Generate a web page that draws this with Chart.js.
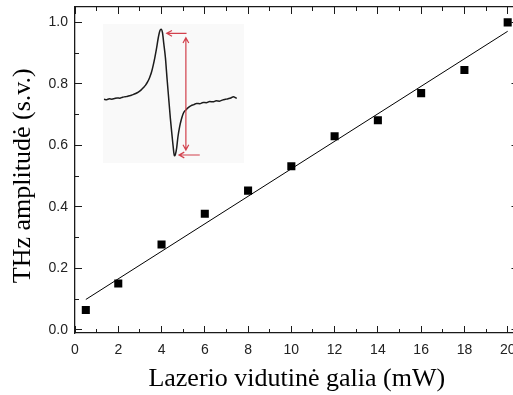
<!DOCTYPE html>
<html>
<head>
<meta charset="utf-8">
<script src="https://cdn.jsdelivr.net/npm/chart.js@4.4.1/dist/chart.umd.min.js"></script>
<style>
  html, body { margin: 0; padding: 0; background: #fff; overflow: hidden; }
  #wrap { position: relative; width: 530px; height: 395px; }
  #main { position: absolute; left: 0; top: 0; }
  #inset { position: absolute; left: 103px; top: 24px; background: #f9f9f9; }
</style>
</head>
<body>
<div id="wrap">
  <canvas id="main" width="530" height="395"></canvas>
  <canvas id="inset" width="141" height="139"></canvas>
</div>
<script>
(function () {
  'use strict';

  // average laser power, mW
  var power = [0.5, 2, 4, 6, 8, 10, 12, 14, 16, 18, 20];
  // THz amplitude, normalised
  var amplitude = [0.065, 0.151, 0.278, 0.378, 0.453, 0.532, 0.630, 0.682, 0.770, 0.845, 1.0];
  // ends of the linear fit
  var fitPower = [0.5, 20];
  var fitAmplitude = [0.099, 0.971];

  var xMajor = [0, 2, 4, 6, 8, 10, 12, 14, 16, 18, 20];
  var xMinor = [1, 3, 5, 7, 9, 11, 13, 15, 17, 19];
  var yMajor = [0, 0.2, 0.4, 0.6, 0.8, 1.0];
  var yMinor = [0.1, 0.3, 0.5, 0.7, 0.9];

  // inset: THz pulse waveform (ps, a.u.)
  var pulseTime = [0, 0.4, 0.8, 1.2, 1.6, 2.0, 2.4, 2.8, 3.2, 3.6, 4.0, 4.4, 4.8, 5.2, 5.6,
    6.0, 6.3, 6.6, 6.9, 7.2, 7.45, 7.7, 7.95, 8.2, 8.45, 8.65, 8.85, 9.05, 9.3, 9.55,
    9.8, 10.05, 10.3, 10.5, 10.65, 10.8, 11.0, 11.2, 11.45, 11.7, 12.0, 12.4, 12.8, 13.2, 13.6,
    14.0, 14.5, 15.0, 15.5, 16.0, 16.5, 17.0, 17.5, 18.0, 18.4, 18.8, 19.2, 19.6, 19.9, 20.1];
  var pulseField = [0.010, 0.004, 0.016, 0.012, 0.022, 0.030, 0.026, 0.040, 0.046, 0.052,
    0.064, 0.076, 0.092, 0.112, 0.140, 0.178, 0.210, 0.255, 0.315, 0.395,
    0.490, 0.600, 0.725, 0.870, 0.975, 1.000, 0.955, 0.800, 0.600, 0.300,
    0.020, -0.260, -0.500, -0.680, -0.790, -0.775, -0.680, -0.520, -0.380, -0.280,
    -0.190, -0.140, -0.105, -0.080, -0.066, -0.048, -0.052, -0.034, -0.038, -0.022,
    -0.026, -0.012, -0.016, 0.002, 0.010, 0.018, 0.028, 0.046, 0.034, 0.022];
  // peak-to-peak markers on the inset, in waveform units
  var arrowFrom = [[12.5, 0.943], [12.4, 0.88], [14.5, -0.778]];
  var arrowTo = [[9.5, 0.943], [12.4, -0.707], [11.36, -0.778]];
  var arrowBoth = [false, true, false];

  var ink = '#1a1a1a';
  var arrowColor = '#d2404c';
  var tickFont = { family: "'Liberation Sans', Arial, sans-serif", size: 14 };
  var titleFont = { family: "'Liberation Serif', 'Times New Roman', serif", size: 26, lineHeight: 1 };

  var X_MIN = 0, X_MAX = 20.5, Y_MIN = -0.01, Y_MAX = 1.05;

  function fixedTicks(values) {
    return function (scale) {
      scale.ticks = values.map(function (v) { return { value: v }; });
    };
  }

  // pin the axis box size and drop the label overhang padding
  function boxSize(prop, size) {
    return function (scale) {
      scale[prop] = size;
      scale.paddingLeft = scale.paddingRight = scale.paddingTop = scale.paddingBottom = 0;
    };
  }

  // inward tick marks on both sides of the frame: a grid line dashed so only
  // its two ends are drawn
  function tickAxis(position, min, max, values, len) {
    var horizontal = position === 'bottom';
    return {
      type: 'linear',
      position: position,
      min: min,
      max: max,
      weight: 0,
      afterBuildTicks: fixedTicks(values),
      afterFit: boxSize(horizontal ? 'height' : 'width', 0),
      grid: { drawTicks: false, color: ink, lineWidth: 1 },
      border: {
        display: false,
        dash: function (c) {
          var a = c.chart.chartArea;
          var span = horizontal ? a.bottom - a.top : a.right - a.left;
          return [len, span - 2 * len, len, 4000];
        },
      },
      ticks: { display: false },
    };
  }

  // bare frame edge (top / right)
  function frameAxis(position, min, max) {
    var horizontal = position === 'top';
    return {
      type: 'linear',
      position: position,
      min: min,
      max: max,
      afterFit: boxSize(horizontal ? 'height' : 'width', 0),
      grid: { display: false, drawTicks: false },
      border: { display: true, color: ink, width: 1.3 },
      ticks: { display: false },
    };
  }

  // y title sits a little below the middle of the frame
  var titleNudge = {
    id: 'titleNudge',
    afterLayout: function (chart) {
      var s = chart.scales.yTitle;
      s.top += 5.7;
      s.bottom += 5.7;
    },
  };

  var points = power.map(function (p, i) { return { x: p, y: amplitude[i] }; });
  var fit = fitPower.map(function (p, i) { return { x: p, y: fitAmplitude[i] }; });

  new Chart(document.getElementById('main'), {
    type: 'scatter',
    data: {
      datasets: [
        {
          data: points,
          pointStyle: 'rect',
          pointRadius: 5.7,
          backgroundColor: '#000',
          borderColor: '#000',
          borderWidth: 0,
        },
        {
          data: fit,
          showLine: true,
          pointRadius: 0,
          borderColor: '#000',
          borderWidth: 1,
          fill: false,
        },
      ],
    },
    options: {
      responsive: false,
      animation: false,
      events: [],
      layout: { padding: { left: 0, right: 11.5, top: 7, bottom: 0 } },
      plugins: { legend: { display: false }, tooltip: { enabled: false } },
      scales: {
        xTicks: tickAxis('bottom', X_MIN, X_MAX, xMajor, 7),
        xTicksMinor: tickAxis('bottom', X_MIN, X_MAX, xMinor, 4),
        x: {
          type: 'linear',
          position: 'bottom',
          min: X_MIN,
          max: X_MAX,
          weight: 1,
          afterBuildTicks: fixedTicks(xMajor),
          afterFit: boxSize('height', 62),
          grid: { display: false, drawTicks: false },
          border: { display: true, color: ink, width: 1.3 },
          ticks: {
            font: tickFont,
            color: '#222',
            padding: 9,
            maxRotation: 0,
            callback: function (v) { return String(v); },
          },
          title: {
            display: true,
            text: 'Lazerio vidutinė galia (mW)',
            font: titleFont,
            color: '#000',
            padding: { top: 0, bottom: 2.5 },
          },
        },
        yTicks: tickAxis('left', Y_MIN, Y_MAX, yMajor, 7),
        yTicksMinor: tickAxis('left', Y_MIN, Y_MAX, yMinor, 4),
        y: {
          type: 'linear',
          position: 'left',
          min: Y_MIN,
          max: Y_MAX,
          weight: 1,
          afterBuildTicks: fixedTicks(yMajor),
          afterFit: boxSize('width', 75),
          grid: { display: false, drawTicks: false },
          border: { display: true, color: ink, width: 1.3 },
          ticks: {
            font: tickFont,
            color: '#222',
            padding: 7,
            callback: function (v) { return v.toFixed(1); },
          },
        },
        yTitle: {
          type: 'linear',
          position: 'left',
          weight: 2,
          afterFit: boxSize('width', 0),
          grid: { display: false, drawTicks: false },
          border: { display: false },
          ticks: { display: false },
          title: {
            display: true,
            text: 'THz amplitudė (s.v.)',
            font: titleFont,
            color: '#000',
            padding: { top: 9.7, bottom: 0 },
          },
        },
        xTop: frameAxis('top', X_MIN, X_MAX),
        yRight: frameAxis('right', Y_MIN, Y_MAX),
      },
    },
    plugins: [titleNudge],
  });

  // red peak-to-peak arrows over the inset waveform
  function head(ctx, x, y, angle) {
    var len = 6, spread = 0.5;
    ctx.moveTo(x + len * Math.cos(angle - spread), y + len * Math.sin(angle - spread));
    ctx.lineTo(x, y);
    ctx.lineTo(x + len * Math.cos(angle + spread), y + len * Math.sin(angle + spread));
  }

  var arrowPlugin = {
    id: 'peakArrows',
    afterDatasetsDraw: function (chart) {
      var ctx = chart.ctx;
      var xs = chart.scales.x, ys = chart.scales.y;
      ctx.save();
      ctx.strokeStyle = arrowColor;
      ctx.lineWidth = 1.2;
      arrowFrom.forEach(function (a, i) {
        var x1 = xs.getPixelForValue(a[0]), y1 = ys.getPixelForValue(a[1]);
        var x2 = xs.getPixelForValue(arrowTo[i][0]), y2 = ys.getPixelForValue(arrowTo[i][1]);
        var back = Math.atan2(y1 - y2, x1 - x2);
        ctx.beginPath();
        ctx.moveTo(x1, y1);
        ctx.lineTo(x2, y2);
        head(ctx, x2, y2, back);
        if (arrowBoth[i]) {
          head(ctx, x1, y1, back + Math.PI);
        }
        ctx.stroke();
      });
      ctx.restore();
    },
  };

  new Chart(document.getElementById('inset'), {
    type: 'scatter',
    data: {
      datasets: [
        {
          data: pulseTime.map(function (t, i) { return { x: t, y: pulseField[i] }; }),
          showLine: true,
          pointRadius: 0,
          borderColor: '#1c1c1c',
          borderWidth: 1.5,
          cubicInterpolationMode: 'monotone',
        },
      ],
    },
    options: {
      responsive: false,
      animation: false,
      events: [],
      layout: { padding: 0 },
      plugins: { legend: { display: false }, tooltip: { enabled: false } },
      scales: {
        x: { type: 'linear', display: false, min: -0.15, max: 21.2 },
        y: { type: 'linear', display: false, min: -0.891, max: 1.075 },
      },
    },
    plugins: [arrowPlugin],
  });
})();
</script>
</body>
</html>
